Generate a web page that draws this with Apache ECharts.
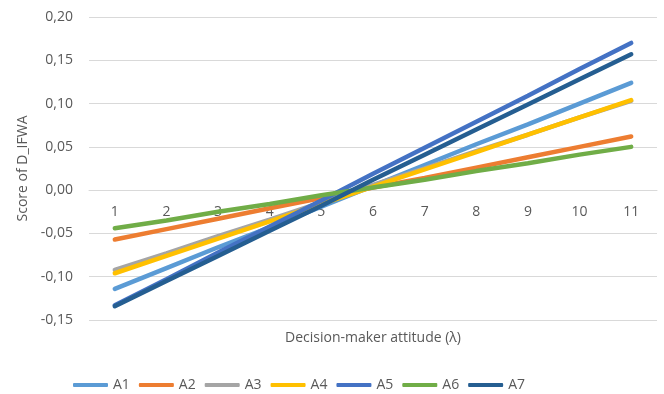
<!DOCTYPE html>
<html><head><meta charset="utf-8">
<script src="https://cdn.jsdelivr.net/npm/echarts@6/dist/echarts.min.js"></script>
<style>html,body{margin:0;padding:0;background:#fff}#c{width:664px;height:394px}</style>
</head><body><div id="c"></div>
<script>
const categories = ['1','2','3','4','5','6','7','8','9','10','11'];
const A1 = [-0.114,-0.090,-0.066,-0.043,-0.019,0.005,0.029,0.053,0.076,0.100,0.124];
const A2 = [-0.057,-0.045,-0.033,-0.021,-0.009,0.003,0.014,0.026,0.038,0.050,0.062];
const A3 = [-0.092,-0.073,-0.053,-0.034,-0.014,0.006,0.025,0.045,0.064,0.084,0.103];
const A4 = [-0.096,-0.076,-0.056,-0.036,-0.016,0.004,0.024,0.044,0.064,0.084,0.104];
const A5 = [-0.133,-0.103,-0.072,-0.042,-0.012,0.019,0.049,0.079,0.109,0.140,0.170];
const A6 = [-0.044,-0.035,-0.025,-0.016,-0.006,0.003,0.012,0.022,0.031,0.041,0.050];
const A7 = [-0.134,-0.105,-0.076,-0.047,-0.018,0.012,0.041,0.070,0.099,0.128,0.157];
const seriesNames = ['A1','A2','A3','A4','A5','A6','A7'];
const seriesData = [A1,A2,A3,A4,A5,A6,A7];
const colors = ['#5B9BD5','#ED7D31','#A5A5A5','#FFC000','#4472C4','#70AD47','#255E91'];
const font = 'Open Sans';
const chart = echarts.init(document.getElementById('c'));
chart.setOption({
  animation:false,
  color: colors,
  textStyle:{fontFamily:font},
  grid:{left:89,right:7,top:17,bottom:74},
  legend:{
    left:68, top:373, itemWidth:35, itemHeight:4, itemGap:9,
    icon:'roundRect',
    textStyle:{color:'#595959',fontSize:14,fontFamily:font},
    data: seriesNames
  },
  graphic:[{type:'text',x:373,y:338,style:{text:'Decision-maker attitude (λ)',fill:'#595959',font:'14px "Open Sans"',textAlign:'center',textVerticalAlign:'middle'}}],
  xAxis:{
    type:'category', data:categories, boundaryGap:true,
    position:'bottom', offset:-130,
    axisLine:{show:true,onZero:false,lineStyle:{color:'#D9D9D9'}},
    axisTick:{show:false},
    axisLabel:{color:'#595959',fontSize:14,margin:15,fontFamily:font},
    splitLine:{show:false}
  },
  yAxis:{
    type:'value', min:-0.15, max:0.20, interval:0.05,
    name:'Score of D_IFWA', nameLocation:'middle', nameGap:58,
    nameTextStyle:{color:'#595959',fontSize:14,fontFamily:font},
    axisLine:{show:false}, axisTick:{show:false},
    axisLabel:{color:'#595959',fontSize:14,margin:16,fontFamily:font,
      formatter:v=>v.toFixed(2).replace('.',',')},
    splitLine:{lineStyle:{color:'#D9D9D9'}}
  },
  series: seriesNames.map((n,i)=>({
    name:n, type:'line', data:seriesData[i], symbol:'none',
    lineStyle:{width:4.5,cap:'round'}, z:2+i
  }))
});
</script></body></html>
